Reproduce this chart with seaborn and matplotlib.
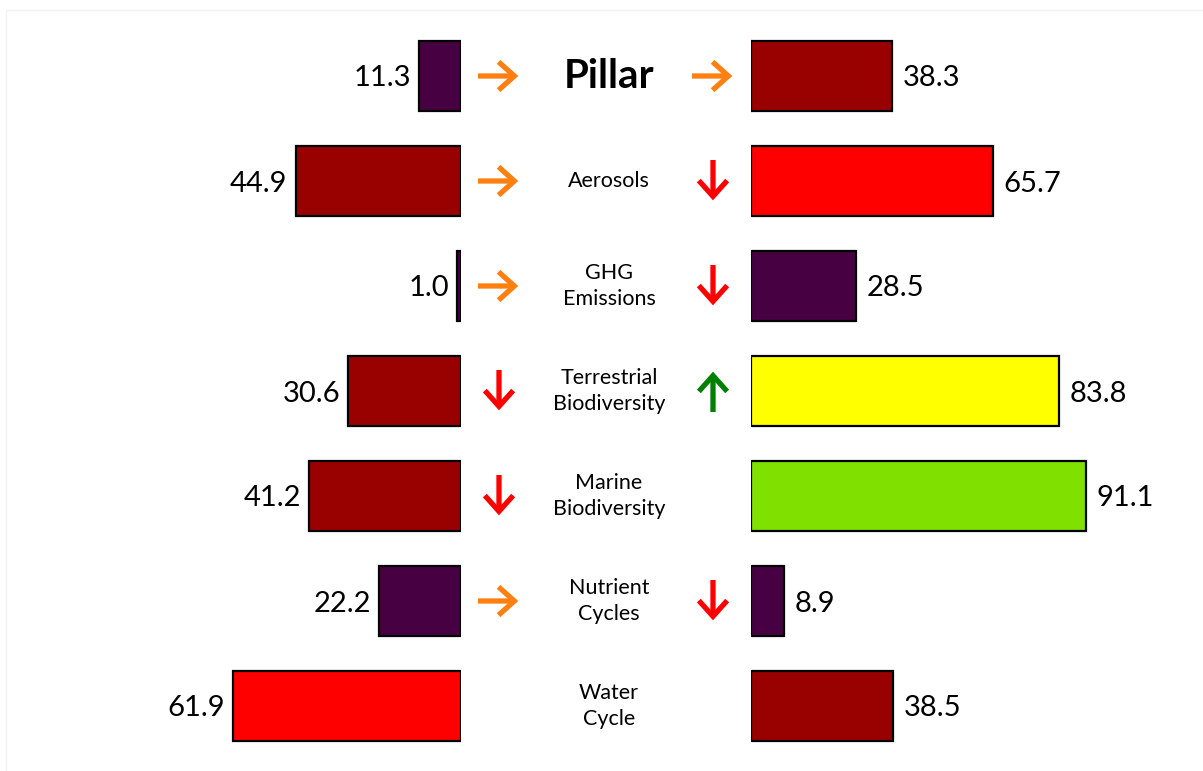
import matplotlib
matplotlib.use("Agg")
import matplotlib.pyplot as plt
from matplotlib.lines import Line2D
import seaborn as sns
import pandas as pd

# Pillar and its components, top to bottom
categories = ["Pillar", "Aerosols", "GHG\nEmissions", "Terrestrial\nBiodiversity",
              "Marine\nBiodiversity", "Nutrient\nCycles", "Water\nCycle"]
left_values = [11.3, 44.9, 1.0, 30.6, 41.2, 22.2, 61.9]
right_values = [38.3, 65.7, 28.5, 83.8, 91.1, 8.9, 38.5]
left_colors = ["#470042", "#990000", "#470042", "#990000", "#990000", "#470042", "#ff0000"]
right_colors = ["#990000", "#ff0000", "#470042", "#ffff00", "#80e000", "#470042", "#990000"]
# trend markers: "right", "down", "up" or None
left_trends = ["right", "right", "right", "down", "down", "right", None]
right_trends = ["right", "down", "down", "up", None, "down", None]

TREND_COLORS = {"right": "#ff8010", "down": "#ff0000", "up": "#008000"}

sns.set_theme(style="white")
plt.rcParams["font.family"] = ["Lato", "DejaVu Sans"]

W, H = 1203, 771
fig = plt.figure(figsize=(W / 100, H / 100), dpi=100)

PX_PER_UNIT = 3.68
ROW_PX = 105.0
ROW0_PX = 76.0
y_top = -ROW0_PX / ROW_PX
y_bot = (H - ROW0_PX) / ROW_PX

left_edge, right_edge = 461, 751

ax_l = fig.add_axes([0, 0, left_edge / W, 1])
ax_r = fig.add_axes([right_edge / W, 0, (W - right_edge) / W, 1])
ax_c = fig.add_axes([left_edge / W, 0, (right_edge - left_edge) / W, 1])

df_l = pd.DataFrame({"cat": categories, "val": left_values})
df_r = pd.DataFrame({"cat": categories, "val": right_values})

sns.barplot(data=df_l, x="val", y="cat", hue="cat", palette=left_colors, orient="h",
            width=70 / ROW_PX, edgecolor="black", linewidth=1.6, saturation=1,
            legend=False, ax=ax_l)
sns.barplot(data=df_r, x="val", y="cat", hue="cat", palette=right_colors, orient="h",
            width=70 / ROW_PX, edgecolor="black", linewidth=1.6, saturation=1,
            legend=False, ax=ax_r)

ax_l.set_xlim(left_edge / PX_PER_UNIT, 0)
ax_r.set_xlim(0, (W - right_edge) / PX_PER_UNIT)
for ax in (ax_l, ax_r, ax_c):
    ax.set_ylim(y_bot, y_top)
    ax.axis("off")
    ax.patch.set_alpha(0)
ax_c.set_xlim(left_edge, right_edge)

for i, v in enumerate(left_values):
    ax_l.text(v + 2.3, i + 0.1, f"{v:.1f}", ha="right", va="baseline", fontsize=21, color="black")
for i, v in enumerate(right_values):
    ax_r.text(v + 2.9, i + 0.1, f"{v:.1f}", ha="left", va="baseline", fontsize=21, color="black")

# centre labels
for i, name in enumerate(categories):
    if i == 0:
        ax_c.text(609, i, name, ha="center", va="center", fontsize=29, fontweight="bold",
                  color="black")
    else:
        ax_c.text(609, i, name, ha="center", va="center", fontsize=15.5, color="black",
                  linespacing=1.35)


def trend_arrow(ax, x_center, row, kind):
    if kind is None:
        return
    color = TREND_COLORS[kind]
    half_w = 21
    half_h = 0.2
    if kind == "right":
        start, end = (x_center - half_w, row), (x_center + half_w, row)
    elif kind == "down":
        start, end = (x_center, row - half_h), (x_center, row + half_h)
    else:
        start, end = (x_center, row + half_h), (x_center, row - half_h)
    ax.annotate("", xy=end, xytext=start,
                arrowprops=dict(arrowstyle="->,head_length=0.95,head_width=0.85",
                                color=color, lw=3.8, shrinkA=0, shrinkB=1.2,
                                joinstyle="miter", capstyle="butt"))


for i, k in enumerate(left_trends):
    trend_arrow(ax_c, 499, i, k)
for i, k in enumerate(right_trends):
    trend_arrow(ax_c, 713, i, k)

# faint frame
fig.add_artist(Line2D([6 / W, 1], [1 - 10 / H, 1 - 10 / H], color="#f2f2f2", lw=1,
                      transform=fig.transFigure))
fig.add_artist(Line2D([6 / W, 6 / W], [0, 1 - 10 / H], color="#f2f2f2", lw=1,
                      transform=fig.transFigure))

fig.savefig("out.png", dpi=100, facecolor="white")
